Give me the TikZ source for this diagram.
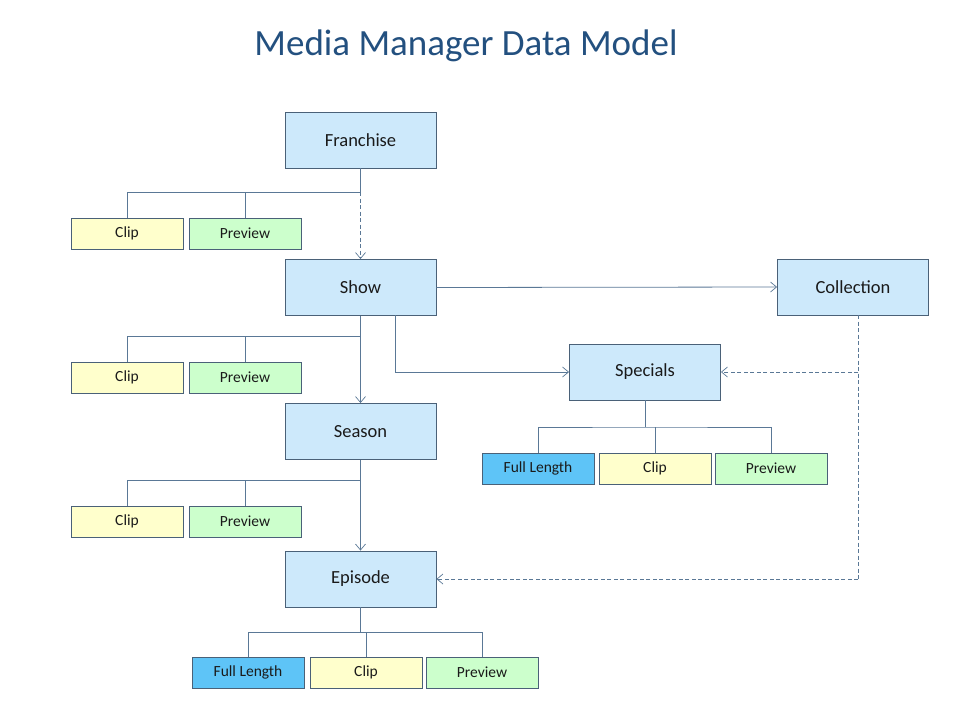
\documentclass[tikz,border=0pt]{standalone}
\usepackage{fontspec}
\setmainfont{Carlito}
\usetikzlibrary{arrows.meta}
\definecolor{lineC}{HTML}{5A7896}
\definecolor{borderC}{HTML}{4A6178}
\definecolor{mainF}{HTML}{CDE9FB}
\definecolor{clipF}{HTML}{FFFFCC}
\definecolor{prevF}{HTML}{CCFFCC}
\definecolor{fullF}{HTML}{5EC4F7}
\definecolor{titleC}{HTML}{23507F}
\definecolor{textC}{HTML}{1A1A1A}
\tikzset{
  mainbox/.style={draw=borderC, line width=0.9pt, fill=mainF, minimum width=151pt, minimum height=56pt, inner sep=0pt, font=\fontsize{18.5}{22}\selectfont, text=textC},
  smallbox/.style={draw=borderC, line width=0.8pt, minimum width=112pt, minimum height=31pt, inner sep=0pt, font=\fontsize{15.5}{18}\selectfont, text=textC},
  clipbox/.style={smallbox, fill=clipF},
  prevbox/.style={smallbox, fill=prevF},
  fullbox/.style={smallbox, fill=fullF},
  conn/.style={draw=lineC, line width=0.8pt},
  arr/.style={conn, -{Straight Barb[length=6pt,width=10pt,line width=0.7pt]}},
  darr/.style={arr, dashed, dash pattern=on 4pt off 2.5pt},
}
\begin{document}
\begin{tikzpicture}[x=1pt,y=-1pt]
\useasboundingbox (0,0) rectangle (960,720);
\node[text=titleC, font=\fontsize{37}{42}\selectfont] (title) at (466,46) {Media Manager Data Model};

\node[mainbox] (fr) at (360.5,140) {Franchise};
\node[mainbox] (sh) at (360.5,287.5) {Show};
\node[mainbox] (se) at (360.5,431.5) {Season};
\node[mainbox] (ep) at (360.5,579) {Episode};
\node[mainbox] (co) at (853,287) {Collection};
\node[mainbox] (sp) at (645,372) {Specials};

\node[clipbox] (c1) at (127,233.5) {Clip};
\node[prevbox] (p1) at (245,233.5) {Preview};
\node[clipbox] (c2) at (127,377.5) {Clip};
\node[prevbox] (p2) at (245,377.5) {Preview};
\node[clipbox] (c3) at (127,521.5) {Clip};
\node[prevbox] (p3) at (245,521.5) {Preview};

\node[fullbox] (sf) at (538,468.5) {Full Length};
\node[clipbox] (sc) at (655,468.5) {Clip};
\node[prevbox] (spv) at (771,468.5) {Preview};

\node[fullbox] (ef) at (248,672.5) {Full Length};
\node[clipbox] (ec) at (366,672.5) {Clip};
\node[prevbox] (epv) at (482,672.5) {Preview};

% junction coordinates
\coordinate (j1) at (360.5,192);
\coordinate (j2) at (360.5,336);
\coordinate (j3) at (360.5,480);
\coordinate (j4) at (360.5,632);
\coordinate (j5) at (645,427);
\coordinate (shb) at (395,315);
\coordinate (shc) at (395,372);
\coordinate (cob) at (858,315);
\coordinate (cm) at (858,372);
\coordinate (ce) at (858,579);

% Franchise
\draw[conn] (fr.south) -- (j1) -| (c1.north);
\draw[conn] (p1.north) |- (j1);
\draw[darr] (j1) -- (sh.north);
% Show
\draw[conn] (sh.south) -- (j2) -| (c2.north);
\draw[conn] (p2.north) |- (j2);
\draw[arr] (j2) -- (se.north);
\draw[arr] (shb) -- (shc) -- (sp.west);
\draw[arr] (sh.east) -- (co.west);
% Season
\draw[conn] (se.south) -- (j3) -| (c3.north);
\draw[conn] (p3.north) |- (j3);
\draw[arr] (j3) -- (ep.north);
% Episode
\draw[conn] (ep.south) -- (j4);
\draw[conn] (ef.north) |- (j4) -| (epv.north);
\draw[conn] (ec.north) -- (ec.north |- j4);
% Specials
\draw[conn] (sp.south) -- (j5);
\draw[conn] (sf.north) |- (j5) -| (spv.north);
\draw[conn] (sc.north) -- (sc.north |- j5);
% Collection
\draw[conn, dashed, dash pattern=on 4pt off 2.5pt] (cob) -- (ce);
\draw[darr] (ce) -- (ep.east);
\draw[darr] (cm) -- (sp.east);
\end{tikzpicture}
\end{document}
